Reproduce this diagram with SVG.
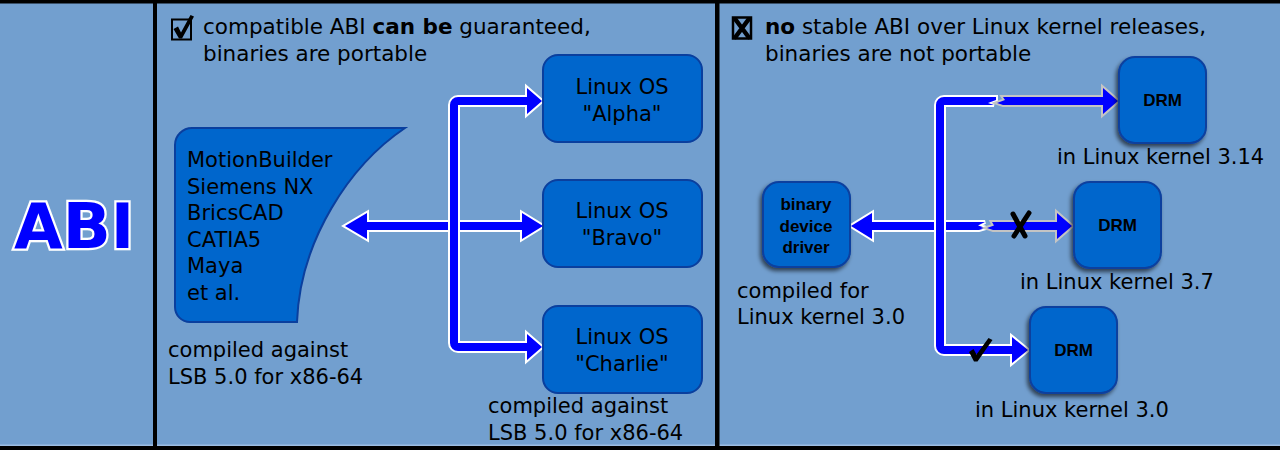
<svg xmlns="http://www.w3.org/2000/svg" width="1280" height="450" viewBox="0 0 1280 450">
<style>
.t{font-family:"DejaVu Sans",Verdana,sans-serif;font-size:21px;fill:#000}
.h{font-size:21.5px}
.b{font-weight:bold}
.bx{fill:#0066cc;stroke:#0a3f9e;stroke-width:2}
.bl{font-family:"Liberation Sans",Arial,sans-serif;font-weight:bold;font-size:17px;fill:#000;text-anchor:middle}
.ar{fill:#0000ff;stroke:#ffffff;stroke-width:4;stroke-linejoin:miter;paint-order:stroke}
.ag{fill:#0000ff;stroke:#c4c4c4;stroke-width:4;stroke-linejoin:miter;paint-order:stroke}
.cb{fill:none;stroke:#000;stroke-width:2}
.ink{fill:#000}
.xs{stroke:#000;stroke-width:4.5;stroke-linecap:round;fill:none}
</style>
<defs>
<filter id="sh" x="-25%" y="-25%" width="150%" height="150%">
<feDropShadow dx="-2" dy="3" stdDeviation="2.2" flood-color="#000" flood-opacity="0.6"/>
</filter>
</defs>
<rect width="1280" height="450" fill="#729fcf"/>
<rect x="0" y="0" width="1280" height="3.5" fill="#000"/>
<rect x="0" y="444.5" width="1280" height="1.5" fill="#9dbde3"/>
<rect x="0" y="446" width="1280" height="4" fill="#000"/>
<rect x="153" y="0" width="4" height="450" fill="#000"/>
<rect x="715" y="0" width="4.5" height="450" fill="#000"/>

<g id="title">
<text x="74" y="248" text-anchor="middle" style="font-family:'DejaVu Sans',sans-serif;font-weight:bold;font-size:63px;fill:#0000ff;stroke:#fff;stroke-width:4.5;paint-order:stroke">ABI</text>
</g>

<g id="header-left">
<rect class="cb" x="172" y="19.5" width="19" height="20"/>
<path class="ink" d="M173.5,29 L178,26.5 L181,32.5 L190.5,15 L194,16.5 L182,38.5 L179,38.5 Z"/>
<text class="t h" x="203" y="34">compatible ABI <tspan class="b">can be</tspan> guaranteed,</text>
<text class="t h" x="203" y="61">binaries are portable</text>
</g>

<g id="header-right">
<rect class="cb" x="733" y="17.5" width="18" height="21" style="stroke-width:2.5"/>
<path class="xs" d="M735.5,19.5 L748.5,37 M748.5,19.5 L735.5,37"/>
<text class="t h" x="765" y="34"><tspan class="b">no</tspan> stable ABI over Linux kernel releases,</text>
<text class="t h" x="765" y="61">binaries are not portable</text>
</g>

<g id="connectors">
<path class="ar" d="M345,226 L367,213 L367,222 L522,222 L522,213 L543,226 L522,239 L522,230 L367,230 L367,239 Z"/>
<path class="ar" d="M542,101 L527,88 L527,97 L458,97 A8,8 0 0 0 450,105 L450,343 A8,8 0 0 0 458,351 L527,351 L527,360 L542,347 L527,334 L527,343 L458,343 L458,105 L527,105 L527,114 Z"/>
<path class="ar" d="M851,226 L872,213 L872,222 L985,222 L978,225.5 L986,228 L979,230 L872,230 L872,239 Z"/>
<path class="ag" d="M992,222 L1057,222 L1057,213 L1072,226 L1057,239 L1057,230 L993,230 L987,228 L994,225.5 Z"/>
<path class="ar" d="M996,97 L944,97 A8,8 0 0 0 936,105 L936,346 A8,8 0 0 0 944,354 L1012,354 L1012,363 L1028,350 L1012,337 L1012,346 L944,346 L944,105 L994,105 L988,103 L996,100 Z"/>
<path class="ag" d="M1003,97 L1103,97 L1103,88 L1118,101 L1103,114 L1103,105 L1003,105 L997,103 L1005,100 Z"/>
<path class="xs" d="M1013,214 L1025,236 M1029,213 L1014,236" style="stroke-width:5"/>
<path class="ink" d="M969,352 L973.5,349 L976.5,354.5 L988.5,338 L992.5,340 L977.5,361.5 L974,361.5 Z"/>
</g>

<g id="apps">
<path class="bx" d="M192,128 L405,128 C350,165 300,240 297,322 L190,322 A15,15 0 0 1 175,307 L175,145 A17,17 0 0 1 192,128 Z"/>
<text class="t" x="187" y="167">MotionBuilder</text>
<text class="t" x="187" y="193.5">Siemens NX</text>
<text class="t" x="187" y="220">BricsCAD</text>
<text class="t" x="187" y="246.7">CATIA5</text>
<text class="t" x="187" y="273.3">Maya</text>
<text class="t" x="187" y="300">et al.</text>
<text class="t" x="168" y="357">compiled against</text>
<text class="t" x="168" y="383.5">LSB 5.0 for x86-64</text>
</g>

<g id="os-alpha">
<rect class="bx" x="543" y="55" width="159" height="87" rx="15"/>
<text class="t" x="622" y="94" text-anchor="middle">Linux OS</text>
<text class="t" x="622" y="120.5" text-anchor="middle">"Alpha"</text>
</g>
<g id="os-bravo">
<rect class="bx" x="543" y="180" width="159" height="87" rx="15"/>
<text class="t" x="622" y="218" text-anchor="middle">Linux OS</text>
<text class="t" x="622" y="244.5" text-anchor="middle">"Bravo"</text>
</g>
<g id="os-charlie">
<rect class="bx" x="543" y="306" width="159" height="87" rx="15"/>
<text class="t" x="622" y="344" text-anchor="middle">Linux OS</text>
<text class="t" x="622" y="370.5" text-anchor="middle">"Charlie"</text>
</g>
<g id="lsb-note">
<text class="t" x="488" y="413">compiled against</text>
<text class="t" x="488" y="439.5">LSB 5.0 for x86-64</text>
</g>

<g id="driver">
<rect class="bx" x="763" y="182" width="87" height="85" rx="16" filter="url(#sh)"/>
<text class="bl" x="806" y="210">binary</text>
<text class="bl" x="806" y="231.5">device</text>
<text class="bl" x="806" y="252.5">driver</text>
<text class="t" x="737" y="297.5">compiled for</text>
<text class="t" x="737" y="324">Linux kernel 3.0</text>
</g>

<g id="drm-314">
<rect class="bx" x="1119" y="57" width="87" height="86" rx="16" filter="url(#sh)"/>
<text class="bl" x="1162.5" y="106">DRM</text>
<text class="t" x="1057" y="164">in Linux kernel 3.14</text>
</g>
<g id="drm-37">
<rect class="bx" x="1074" y="182" width="87" height="86" rx="16" filter="url(#sh)"/>
<text class="bl" x="1117.5" y="231">DRM</text>
<text class="t" x="1020" y="288.5">in Linux kernel 3.7</text>
</g>
<g id="drm-30">
<rect class="bx" x="1030" y="307" width="87" height="86" rx="16" filter="url(#sh)"/>
<text class="bl" x="1073.5" y="356">DRM</text>
<text class="t" x="975" y="417">in Linux kernel 3.0</text>
</g>
</svg>
